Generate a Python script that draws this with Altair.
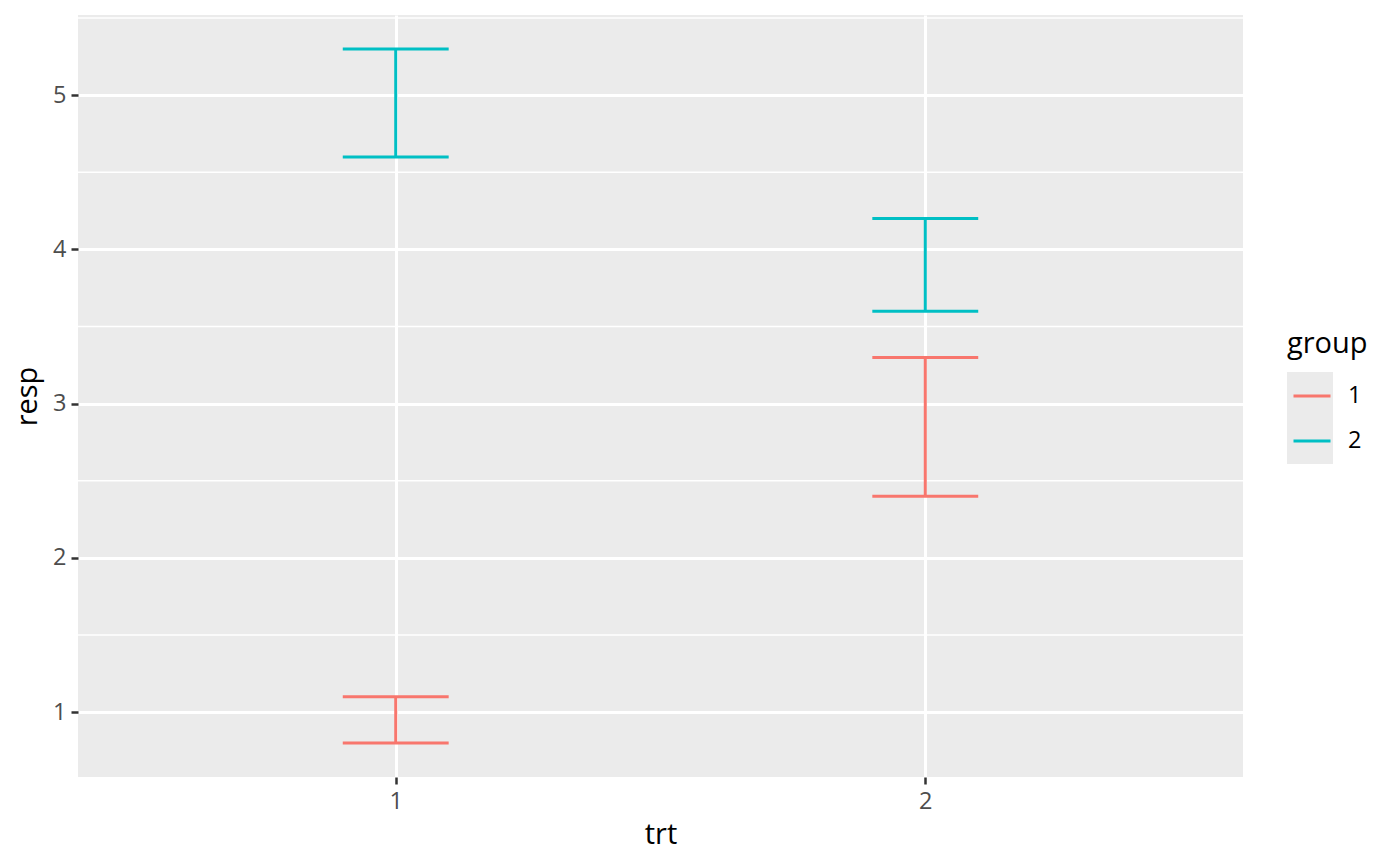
import altair as alt
import pandas as pd

# ---- data ----
trt = [1, 1, 2, 2]
group = ["1", "2", "1", "2"]
lower = [0.8, 4.6, 2.4, 3.6]
upper = [1.1, 5.3, 3.3, 4.2]
y_breaks = [1, 2, 3, 4, 5]
minor_breaks = [1.5, 2.5, 3.5, 4.5, 5.5]
x_breaks = [1, 2]
group_levels = ["1", "2"]
group_colors = ["#F8766D", "#00BFC4"]

df = pd.DataFrame({"trt": trt, "group": group, "lower": lower, "upper": upper})
minor_df = pd.DataFrame({"y": minor_breaks})

FONT = "Open Sans"
W, H = 1165, 762

xscale = alt.Scale(domain=[0.4, 2.6], nice=False, zero=False)
yscale = alt.Scale(domain=[0.58, 5.52], nice=False, zero=False)

xaxis = alt.Axis(values=x_breaks, format="d", title="trt",
                 titleX=582.5, titleY=66, titleBaseline="alphabetic",
                 titleAnchor="middle", titleAlign="center")
yaxis = alt.Axis(values=y_breaks, format="d", title="resp",
                 titleX=-42, titleY=381, titleBaseline="alphabetic",
                 titleAngle=270, titleAlign="center", titleAnchor="middle")

color = alt.Color(
    "group:N",
    scale=alt.Scale(domain=group_levels, range=group_colors),
    legend=alt.Legend(
        title="group", orient="none", legendX=1209, legendY=315,
        symbolType="stroke", symbolSize=1369, symbolStrokeWidth=3,
        symbolOffset=5, labelOffset=16, rowPadding=13, padding=0,
        titleFont=FONT, titleFontSize=29, titleColor="black",
        titleFontWeight="normal", titlePadding=17,
        labelFont=FONT, labelFontSize=23.5, labelColor="black",
    ),
)

legend_bg = alt.Chart(pd.DataFrame({"k": [0]})).mark_rect(color="#EBEBEB").encode(
    x=alt.value(1209), x2=alt.value(1255), y=alt.value(357), y2=alt.value(449)
)

minor = alt.Chart(minor_df).mark_rule(color="white", strokeWidth=1.5).encode(
    y=alt.Y("y:Q", scale=yscale, axis=yaxis)
)

stems = alt.Chart(df).mark_rule(strokeWidth=3).encode(
    x=alt.X("trt:Q", scale=xscale, axis=xaxis),
    y=alt.Y("lower:Q", scale=yscale, axis=yaxis),
    y2="upper:Q",
    color=color,
)

caps = alt.Chart(df).transform_fold(
    ["lower", "upper"], as_=["end", "val"]
).transform_calculate(
    xa="datum.trt - 0.1", xb="datum.trt + 0.1"
).mark_rule(strokeWidth=3).encode(
    x=alt.X("xa:Q", scale=xscale, axis=xaxis),
    x2="xb:Q",
    y=alt.Y("val:Q", scale=yscale, axis=yaxis),
    color=color,
)

chart = alt.layer(legend_bg, minor, stems, caps).properties(
    width=W, height=H,
    autosize=alt.AutoSizeParams(type="none"),
    padding={"left": 70, "top": 7, "right": 149, "bottom": 81},
    background="white",
).configure_view(
    fill="#EBEBEB", stroke=None
).configure_axis(
    domain=False,
    labelFont=FONT, labelFontSize=23.5, labelColor="#4D4D4D", labelPadding=5,
    tickColor="#333333", tickSize=7, tickWidth=2.5,
    grid=True, gridColor="white", gridWidth=3,
    titleFont=FONT, titleFontSize=29, titleColor="black", titleFontWeight="normal",
)

chart.save("out.html", embed_options={"renderer": "svg", "actions": False})
